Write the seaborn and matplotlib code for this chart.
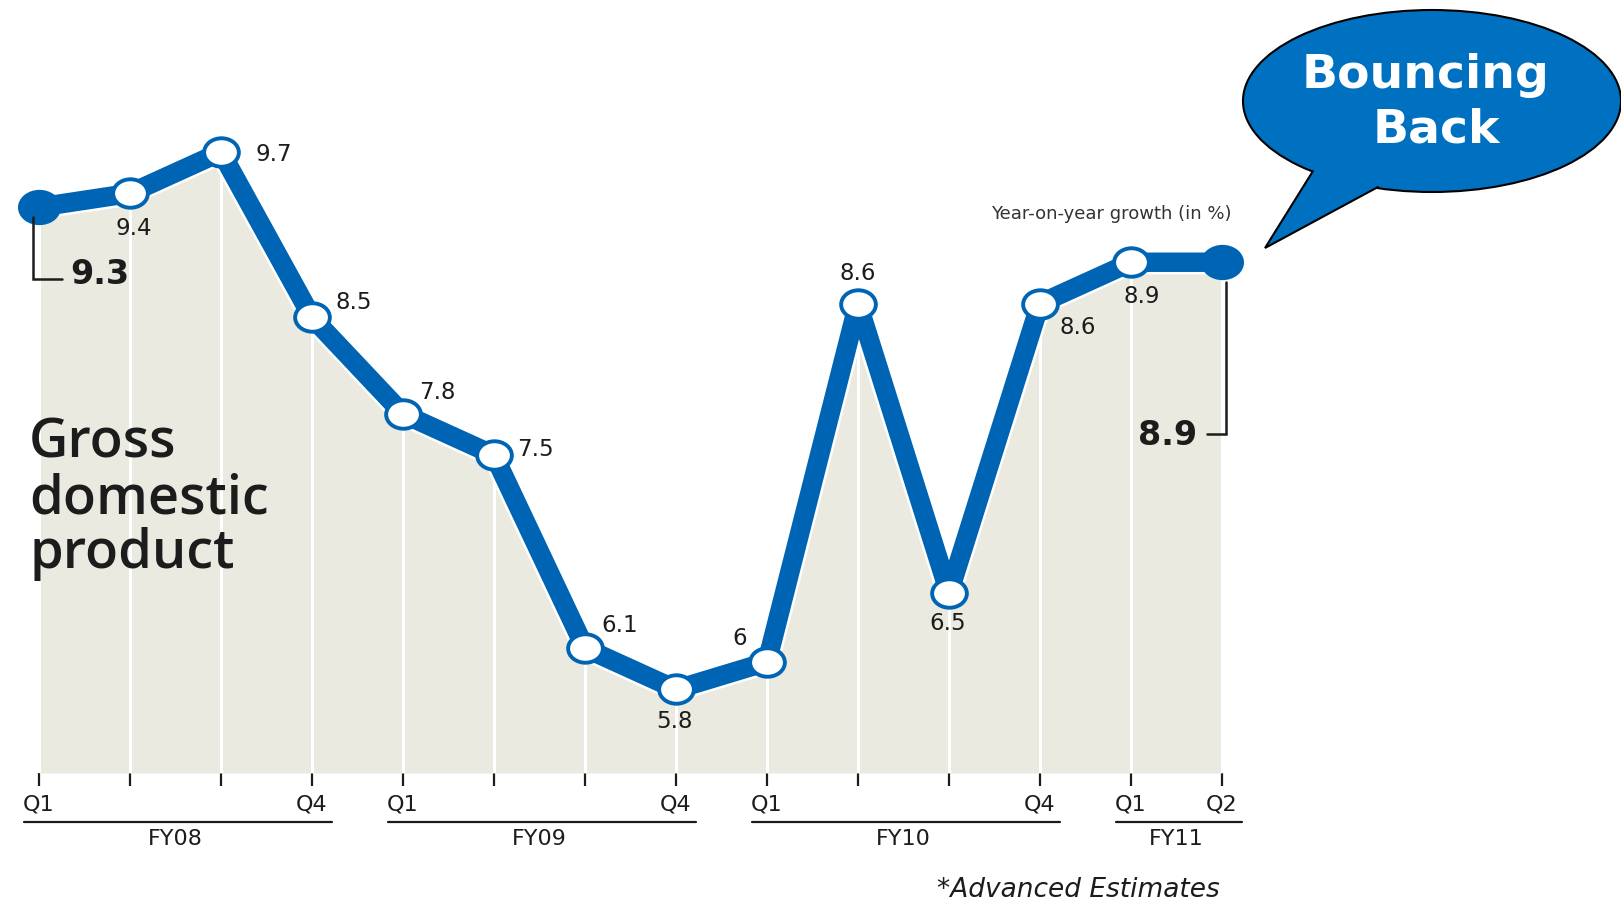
import numpy as np
import pandas as pd
import matplotlib
matplotlib.use("Agg")
import matplotlib.pyplot as plt
import matplotlib.transforms as mtransforms
from matplotlib.patches import Ellipse, Polygon
from matplotlib.path import Path
import seaborn as sns

# ---------------- data ----------------
quarters = ["Q1", "Q2", "Q3", "Q4", "Q1", "Q2", "Q3", "Q4",
            "Q1", "Q2", "Q3", "Q4", "Q1", "Q2"]
fiscal_years = ["FY08"] * 4 + ["FY09"] * 4 + ["FY10"] * 4 + ["FY11"] * 2
gdp_growth = [9.3, 9.4, 9.7, 8.5, 7.8, 7.5, 6.1, 5.8, 6.0, 8.6, 6.5, 8.6, 8.9, 8.9]
value_labels = ["9.3", "9.4", "9.7", "8.5", "7.8", "7.5", "6.1", "5.8",
                "6", "8.6", "6.5", "8.6", "8.9", "8.9"]
tick_labels = ["Q1", "", "", "Q4", "Q1", "", "", "Q4", "Q1", "", "", "Q4", "Q1", "Q2"]
fy_names = ["FY08", "FY09", "FY10", "FY11"]

# ---------------- styling ----------------
BLUE = "#0064B4"
BUBBLE = "#0070C0"
FILL = "#EBEAE0"
INK = "#1c1c1c"

sns.set_theme(style="white")
plt.rcParams["font.family"] = ["DejaVu Sans"]

W, H = 1621, 901
fig = plt.figure(figsize=(W / 100, H / 100), dpi=100)

# axes geometry (pixels)
x0_px, dx_px = 39.0, 91.0
y97_px, dy_px = 152.0, 137.8   # pixel row of 9.7 and px per unit
base_px = 773.0
v_top = 9.7 + y97_px / dy_px
v_base = 9.7 - (base_px - y97_px) / dy_px

ax = fig.add_axes([0, (H - base_px) / H, 1, base_px / H])
ax.set_xlim(-x0_px / dx_px, (W - x0_px) / dx_px)
ax.set_ylim(v_base, v_top)

df = pd.DataFrame({"idx": np.arange(len(gdp_growth)), "growth": gdp_growth,
                   "quarter": quarters, "fy": fiscal_years})

# area + white drop lines
ax.fill_between(df["idx"], df["growth"], v_base, color=FILL, lw=0, zorder=1)
ax.vlines(df["idx"], v_base, df["growth"], color="white", lw=2.2, zorder=2)

# line with white halo
sns.lineplot(data=df, x="idx", y="growth", ax=ax, color="white", lw=17.5,
             solid_joinstyle="round", solid_capstyle="round", zorder=3)
sns.lineplot(data=df, x="idx", y="growth", ax=ax, color=BLUE, lw=14,
             solid_joinstyle="round", solid_capstyle="round", zorder=4)

# markers
circ = Path.unit_circle()
ell = Path(circ.vertices * np.array([1.22, 1.0]), circ.codes)
inner = df.iloc[1:-1]
ax.plot(inner["idx"], inner["growth"], ls="none", marker=ell, ms=25,
        mfc="white", mec=BLUE, mew=2.8, zorder=5)
ends = df.iloc[[0, -1]]
ax.plot(ends["idx"], ends["growth"], ls="none", marker=ell, ms=31,
        mfc=BLUE, mec=BLUE, mew=0, zorder=5)

# value labels (offsets in points)
label_offsets = [None, (3, -25), (38, -2), (30, 11), (25, 15), (30, 4),
                 (25, 16), (-1, -23), (-20, 17), (0, 22), (-1, -22),
                 (27, -17), (8, -25), None]
for i, (v, lab, off) in enumerate(zip(gdp_growth, value_labels, label_offsets)):
    if off is None:
        continue
    ax.annotate(lab, (i, v), xytext=off, textcoords="offset points",
                ha="center", va="center", fontsize=16.5, color=INK, zorder=6)

# bracketed callouts at both ends
first_v, last_v = gdp_growth[0], gdp_growth[-1]
ax.plot([-0.07, -0.07, 0.25], [first_v - 0.07, first_v - 0.52, first_v - 0.52],
        color=INK, lw=1.8, zorder=6, solid_joinstyle="miter")
ax.text(0.34, first_v - 0.49, value_labels[0], ha="left", va="center",
        fontsize=24, fontweight="bold", color=INK, zorder=6)
n = len(gdp_growth) - 1
ax.plot([n + 0.04, n + 0.04, n - 0.17], [last_v - 0.14, last_v - 1.25, last_v - 1.25],
        color=INK, lw=1.8, zorder=6, solid_joinstyle="miter")
ax.text(n - 0.6, last_v - 1.26, value_labels[-1], ha="center", va="center",
        fontsize=24, fontweight="bold", color=INK, zorder=6)

# x axis ticks
for s in ax.spines.values():
    s.set_visible(False)
ax.set_xticks(df["idx"], tick_labels)
ax.set_yticks([])
ax.tick_params(axis="x", bottom=True, length=9.4, width=1.6, color=INK, pad=6,
               labelsize=16, labelcolor=INK)
ax.set_xlabel("")
ax.set_ylabel("")

# fiscal-year underlines and labels
blend = mtransforms.blended_transform_factory(ax.transData, ax.transAxes)
line_y = (base_px - 822) / base_px
lab_y = (base_px - 839) / base_px
for fy in fy_names:
    ids = df.loc[df["fy"] == fy, "idx"]
    a, b = ids.min(), ids.max()
    ax.plot([a - 0.17, b + 0.22], [line_y, line_y], transform=blend,
            color=INK, lw=1.6, clip_on=False)
    ax.text((a + b) / 2, lab_y, fy, transform=blend, ha="center", va="center",
            fontsize=16, color=INK, clip_on=False)

# titles / notes
title_font = dict(fontsize=39, color=INK, fontweight="semibold",
                  family=["Open Sans", "DejaVu Sans"], ha="left", va="baseline")
for line, base in zip(["Gross", "domestic", "product"], [458, 514, 568]):
    fig.text(29 / W, 1 - base / H, line, **title_font)
fig.text(1232 / W, 1 - 214 / H, "Year-on-year growth (in %)", ha="right",
         va="center", fontsize=13, color="#333333")
fig.text(937 / W, 1 - 890 / H, "*Advanced Estimates", ha="left", va="center",
         fontsize=19, style="italic", color=INK)

# speech bubble (overlay in pixel coords)
ov = fig.add_axes([0, 0, 1, 1], facecolor="none")
ov.set_xlim(0, W)
ov.set_ylim(H, 0)
ov.axis("off")
ov.add_patch(Ellipse((1432, 101), 378, 182, facecolor=BUBBLE, edgecolor="black",
                     lw=1.5, zorder=10))
ov.add_patch(Polygon([(1313, 171), (1265, 248), (1378, 187), (1385, 165), (1308, 160)],
                     closed=True, facecolor=BUBBLE, edgecolor="none", zorder=11))
ov.plot([1313, 1265, 1378], [171, 248, 187], color="black", lw=1.5, zorder=12,
        solid_joinstyle="miter")
ov.text(1426, 75, "Bouncing", ha="center", va="center", color="white",
        fontsize=34, fontweight="bold", zorder=13)
ov.text(1436, 130, "Back", ha="center", va="center", color="white",
        fontsize=34, fontweight="bold", zorder=13)

fig.savefig("out.png", dpi=100)
